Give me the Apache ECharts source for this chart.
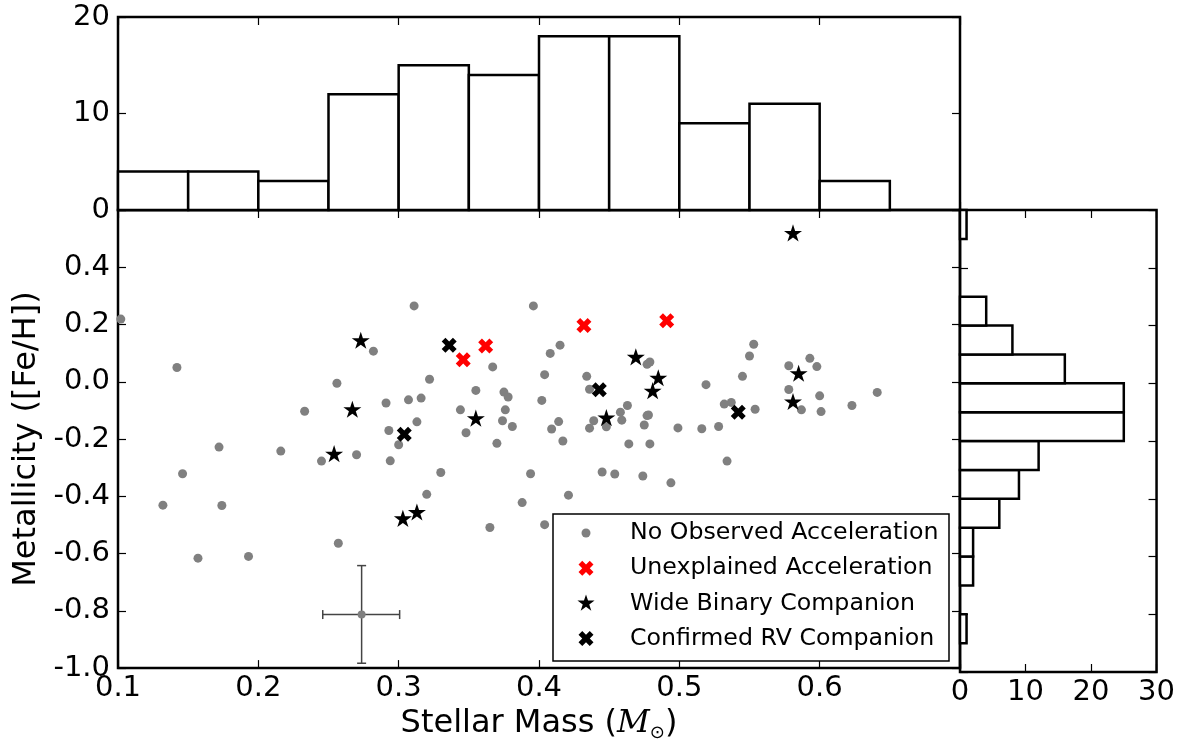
<!DOCTYPE html>
<html>
<head>
<meta charset="utf-8">
<script src="https://cdn.jsdelivr.net/npm/echarts@6/dist/echarts.min.js"></script>
<style>html,body{margin:0;padding:0;background:#fff;}#c{width:1178px;height:747px;}</style>
</head>
<body>
<div id="c"></div>
<script>
// ---- data ----
const massBinEdges = [0.10,0.15,0.20,0.25,0.30,0.35,0.40,0.45,0.50,0.55,0.60,0.65];
const massCounts = [4,4,3,12,15,14,18,18,9,11,3];
const fehBinEdges = [-0.9,-0.8,-0.7,-0.6,-0.5,-0.4,-0.3,-0.2,-0.1,0.0,0.1,0.2,0.3,0.4,0.5,0.6];
const fehCounts = [1,0,2,2,6,9,12,25,25,16,8,4,0,0,1];

const noAccel = [
[0.102,0.219],[0.142,0.050],[0.282,0.107],[0.256,-0.005],[0.233,-0.103],[0.291,-0.074],[0.293,-0.170],[0.300,-0.220],
[0.311,0.265],[0.396,0.265],[0.415,0.128],[0.408,0.099],[0.367,0.052],[0.322,0.009],[0.404,0.025],[0.434,0.019],
[0.477,0.061],[0.479,0.069],[0.436,-0.026],[0.307,-0.063],[0.316,-0.057],[0.355,-0.030],[0.375,-0.036],[0.378,-0.053],
[0.402,-0.065],[0.344,-0.098],[0.376,-0.098],[0.374,-0.136],[0.381,-0.156],[0.313,-0.140],[0.348,-0.178],[0.370,-0.215],
[0.414,-0.139],[0.409,-0.165],[0.417,-0.207],[0.439,-0.136],[0.436,-0.162],[0.448,-0.157],[0.458,-0.106],[0.463,-0.083],
[0.459,-0.134],[0.477,-0.118],[0.478,-0.116],[0.475,-0.151],[0.499,-0.161],[0.464,-0.217],[0.479,-0.217],
[0.553,0.131],[0.550,0.090],[0.545,0.019],[0.519,-0.010],[0.578,0.056],[0.593,0.082],[0.598,0.053],[0.578,-0.027],
[0.600,-0.049],[0.641,-0.037],[0.587,-0.098],[0.601,-0.104],[0.623,-0.083],[0.532,-0.078],[0.537,-0.072],[0.554,-0.096],
[0.516,-0.164],[0.528,-0.156],
[0.172,-0.228],[0.216,-0.242],[0.245,-0.277],[0.270,-0.255],[0.294,-0.276],[0.146,-0.321],[0.330,-0.317],[0.394,-0.321],
[0.132,-0.431],[0.174,-0.432],[0.320,-0.393],[0.388,-0.422],[0.365,-0.509],[0.404,-0.499],[0.257,-0.564],[0.157,-0.616],
[0.193,-0.610],[0.534,-0.277],[0.445,-0.315],[0.454,-0.322],[0.474,-0.329],[0.494,-0.353],[0.421,-0.396]
];
const unexplained = [[0.346,0.077],[0.362,0.125],[0.432,0.197],[0.491,0.213]];
const wideBinary = [[0.273,0.145],[0.267,-0.096],[0.254,-0.251],[0.313,-0.455],[0.303,-0.477],[0.355,-0.127],
  [0.448,-0.125],[0.469,0.087],[0.485,0.014],[0.481,-0.031],[0.581,0.520],[0.585,0.030],[0.581,-0.069]];
const confirmedRV = [[0.336,0.128],[0.304,-0.183],[0.443,-0.028],[0.542,-0.106]];

const errCenter = [0.2736, -0.813];
const errMassRange = [0.2459, 0.3007];
const errFehRange = [-0.983, -0.642];

const massTicks = [0.1,0.2,0.3,0.4,0.5,0.6];
const fehTicks = [-1.0,-0.8,-0.6,-0.4,-0.2,0.0,0.2,0.4];

// ---- build ----
const topHist = massCounts.map((c,i)=>[massBinEdges[i], massBinEdges[i+1], c]).filter(d=>d[2]>0);
const sideHist = fehCounts.map((c,i)=>[fehBinEdges[i], fehBinEdges[i+1], c]).filter(d=>d[2]>0);

const FONT = 'DejaVu Sans';
// marker outlines (unit shapes, centred on 0,0, spanning -0.5..0.5)
const STAR_PTS = [[0,-0.5],[0.1123,-0.1545],[0.4755,-0.1545],[0.1815,0.059],[0.294,0.4045],[0,0.191],
  [-0.294,0.4045],[-0.1815,0.059],[-0.4755,-0.1545],[-0.1123,-0.1545]];
const X_PTS = [[-0.5,-0.25],[-0.25,-0.5],[0,-0.25],[0.25,-0.5],[0.5,-0.25],[0.25,0],[0.5,0.25],[0.25,0.5],
  [0,0.25],[-0.25,0.5],[-0.5,0.25],[-0.25,0]];
const toPath = pts => 'path://' + pts.map((p,i)=>(i?'L':'M')+(p[0]*100+50).toFixed(2)+','+(p[1]*100+50).toFixed(2)).join(' ') + ' Z';
const STAR = toPath(STAR_PTS);
const XMARK = toPath(X_PTS);

const tick = {show:true, inside:true, length:8, lineStyle:{color:'#000', width:1.2}};
function ax(extra){
  return Object.assign({
    type:'value', axisLine:{show:false, onZero:false}, axisTick:tick, splitLine:{show:false},
    axisLabel:{show:false}
  }, extra);
}
const lbl = (fmt, margin) => ({show:true, fontSize:29, fontFamily:FONT, color:'#000', margin:margin, formatter:fmt});

const chart = echarts.init(document.getElementById('c'), null, {renderer:'canvas'});
const gridStyle = {show:true, borderColor:'#000', borderWidth:2.5, backgroundColor:'transparent'};

// legend (drawn as graphic elements: box, marker, label)
const legendItems = [
  {name:'No Observed Acceleration', pts:null, size:9, color:'#808080'},
  {name:'Unexplained Acceleration', pts:X_PTS, size:15, color:'#ff0000'},
  {name:'Wide Binary Companion', pts:STAR_PTS, size:18, color:'#000'},
  {name:'Confirmed RV Companion', pts:X_PTS, size:15, color:'#000'}
];
const LG = {x:553, y:514, w:396, h:147, markX:586, textX:630, row0:533, rowGap:35.2};
const legendGraphics = [{type:'rect', x:LG.x, y:LG.y, z:50, shape:{x:0, y:0, width:LG.w, height:LG.h},
  style:{fill:'#fff', stroke:'#000', lineWidth:1.5}}];
legendItems.forEach((it, i) => {
  const cy = LG.row0 + i*LG.rowGap;
  if (!it.pts) {
    legendGraphics.push({type:'circle', z:51, shape:{cx:LG.markX, cy:cy, r:it.size/2}, style:{fill:it.color}});
  } else {
    legendGraphics.push({type:'polygon', z:51,
      shape:{points:it.pts.map(p=>[LG.markX + p[0]*it.size, cy + p[1]*it.size])}, style:{fill:it.color}});
  }
  legendGraphics.push({type:'text', z:51, x:LG.textX, y:cy,
    style:{text:it.name, fontSize:23.7, fontFamily:FONT, fill:'#000', verticalAlign:'middle', align:'left'}});
});

chart.setOption({
  animation:false,
  backgroundColor:'#fff',
  grid:[
    Object.assign({left:118, top:17, width:842, height:193}, gridStyle),
    Object.assign({left:118, top:210, width:842, height:462}, gridStyle),
    Object.assign({left:960, top:210, width:198, height:462}, gridStyle)
  ],
  xAxis:[
    ax({gridIndex:0, min:0.1, max:0.7, interval:0.1, position:'bottom'}),
    ax({gridIndex:0, min:0.1, max:0.7, interval:0.1, position:'top'}),
    ax({gridIndex:1, min:0.1, max:0.7, interval:0.1, position:'bottom',
        axisLabel:lbl(v => massTicks.some(t=>Math.abs(t-v)<1e-6) ? v.toFixed(1) : '', 6),
        name:'{n|Stellar Mass (}{m|M}{s|⊙}{n|)}', nameLocation:'middle', nameGap:35,
        nameTextStyle:{rich:{
          n:{fontSize:32, fontFamily:FONT, color:'#000'},
          m:{fontSize:32, fontFamily:'DejaVu Serif', fontStyle:'italic', color:'#000'},
          s:{fontSize:18, fontFamily:FONT, color:'#000', padding:[18,0,0,0]}
        }}}),
    ax({gridIndex:1, min:0.1, max:0.7, interval:0.1, position:'top'}),
    ax({gridIndex:2, min:0, max:30, interval:10, position:'bottom', axisLabel:lbl(v=>String(Math.round(v)), 6)}),
    ax({gridIndex:2, min:0, max:30, interval:10, position:'top'})
  ],
  yAxis:[
    ax({gridIndex:0, min:0, max:20, interval:10, position:'left', axisLabel:lbl(v=>String(Math.round(v)), 8)}),
    ax({gridIndex:0, min:0, max:20, interval:10, position:'right'}),
    ax({gridIndex:1, min:-1.0, max:0.6, interval:0.2, position:'left',
        axisLabel:lbl(v => {
          const t = fehTicks.find(t=>Math.abs(t-v)<1e-6);
          return t === undefined ? '' : (Math.abs(t)<1e-9 ? '0.0' : t.toFixed(1));
        }, 8),
        name:'Metallicity ([Fe/H])', nameLocation:'middle', nameGap:73, nameRotate:90,
        nameTextStyle:{fontSize:32, fontFamily:FONT, color:'#000'}}),
    ax({gridIndex:1, min:-1.0, max:0.6, interval:0.2, position:'right'}),
    ax({gridIndex:2, min:-1.0, max:0.6, interval:0.2, position:'left'}),
    ax({gridIndex:2, min:-1.0, max:0.6, interval:0.2, position:'right'})
  ],
  graphic:legendGraphics,
  series:[
    {type:'custom', xAxisIndex:0, yAxisIndex:0, data:topHist, encode:{x:[0,1], y:2}, z:3,
     renderItem:(p, api)=>{
       const a = api.coord([api.value(0), api.value(2)]);
       const b = api.coord([api.value(1), 0]);
       return {type:'rect', shape:{x:a[0], y:a[1], width:b[0]-a[0], height:b[1]-a[1]},
               style:{fill:'#fff', stroke:'#000', lineWidth:2.5}};
     }},
    {type:'custom', xAxisIndex:4, yAxisIndex:4, data:sideHist, encode:{x:2, y:[0,1]}, z:3,
     renderItem:(p, api)=>{
       const a = api.coord([0, api.value(1)]);
       const b = api.coord([api.value(2), api.value(0)]);
       return {type:'rect', shape:{x:a[0], y:a[1], width:b[0]-a[0], height:b[1]-a[1]},
               style:{fill:'#fff', stroke:'#000', lineWidth:2.5}};
     }},
    {name:'No Observed Acceleration', type:'scatter', xAxisIndex:2, yAxisIndex:2, data:noAccel,
     symbol:'circle', symbolSize:9, itemStyle:{color:'#808080', opacity:1}, z:4},
    {name:'Unexplained Acceleration', type:'scatter', xAxisIndex:2, yAxisIndex:2, data:unexplained,
     symbol:XMARK, symbolSize:15, itemStyle:{color:'#ff0000', opacity:1}, z:5},
    {name:'Wide Binary Companion', type:'scatter', xAxisIndex:2, yAxisIndex:2, data:wideBinary,
     symbol:STAR, symbolKeepAspect:true, symbolSize:18, itemStyle:{color:'#000', opacity:1}, z:6},
    {name:'Confirmed RV Companion', type:'scatter', xAxisIndex:2, yAxisIndex:2, data:confirmedRV,
     symbol:XMARK, symbolSize:15, itemStyle:{color:'#000', opacity:1}, z:7},
    {type:'custom', xAxisIndex:2, yAxisIndex:2, data:[[errCenter[0], errCenter[1], errMassRange[0], errMassRange[1], errFehRange[0], errFehRange[1]]],
     encode:{x:[0,2,3], y:[1,4,5]}, z:8,
     renderItem:(p, api)=>{
       const c = api.coord([api.value(0), api.value(1)]);
       const l = api.coord([api.value(2), api.value(1)]);
       const r = api.coord([api.value(3), api.value(1)]);
       const bt = api.coord([api.value(0), api.value(4)]);
       const tp = api.coord([api.value(0), api.value(5)]);
       const st = {stroke:'#444', lineWidth:1.5};
       const cap = 4.5;
       return {type:'group', children:[
         {type:'line', shape:{x1:l[0], y1:l[1], x2:r[0], y2:r[1]}, style:st},
         {type:'line', shape:{x1:bt[0], y1:bt[1], x2:tp[0], y2:tp[1]}, style:st},
         {type:'line', shape:{x1:l[0], y1:l[1]-cap, x2:l[0], y2:l[1]+cap}, style:st},
         {type:'line', shape:{x1:r[0], y1:r[1]-cap, x2:r[0], y2:r[1]+cap}, style:st},
         {type:'line', shape:{x1:bt[0]-cap, y1:bt[1], x2:bt[0]+cap, y2:bt[1]}, style:st},
         {type:'line', shape:{x1:tp[0]-cap, y1:tp[1], x2:tp[0]+cap, y2:tp[1]}, style:st},
         {type:'circle', shape:{cx:c[0], cy:c[1], r:4}, style:{fill:'#808080'}}
       ]};
     }}
  ]
});
</script>
</body>
</html>
